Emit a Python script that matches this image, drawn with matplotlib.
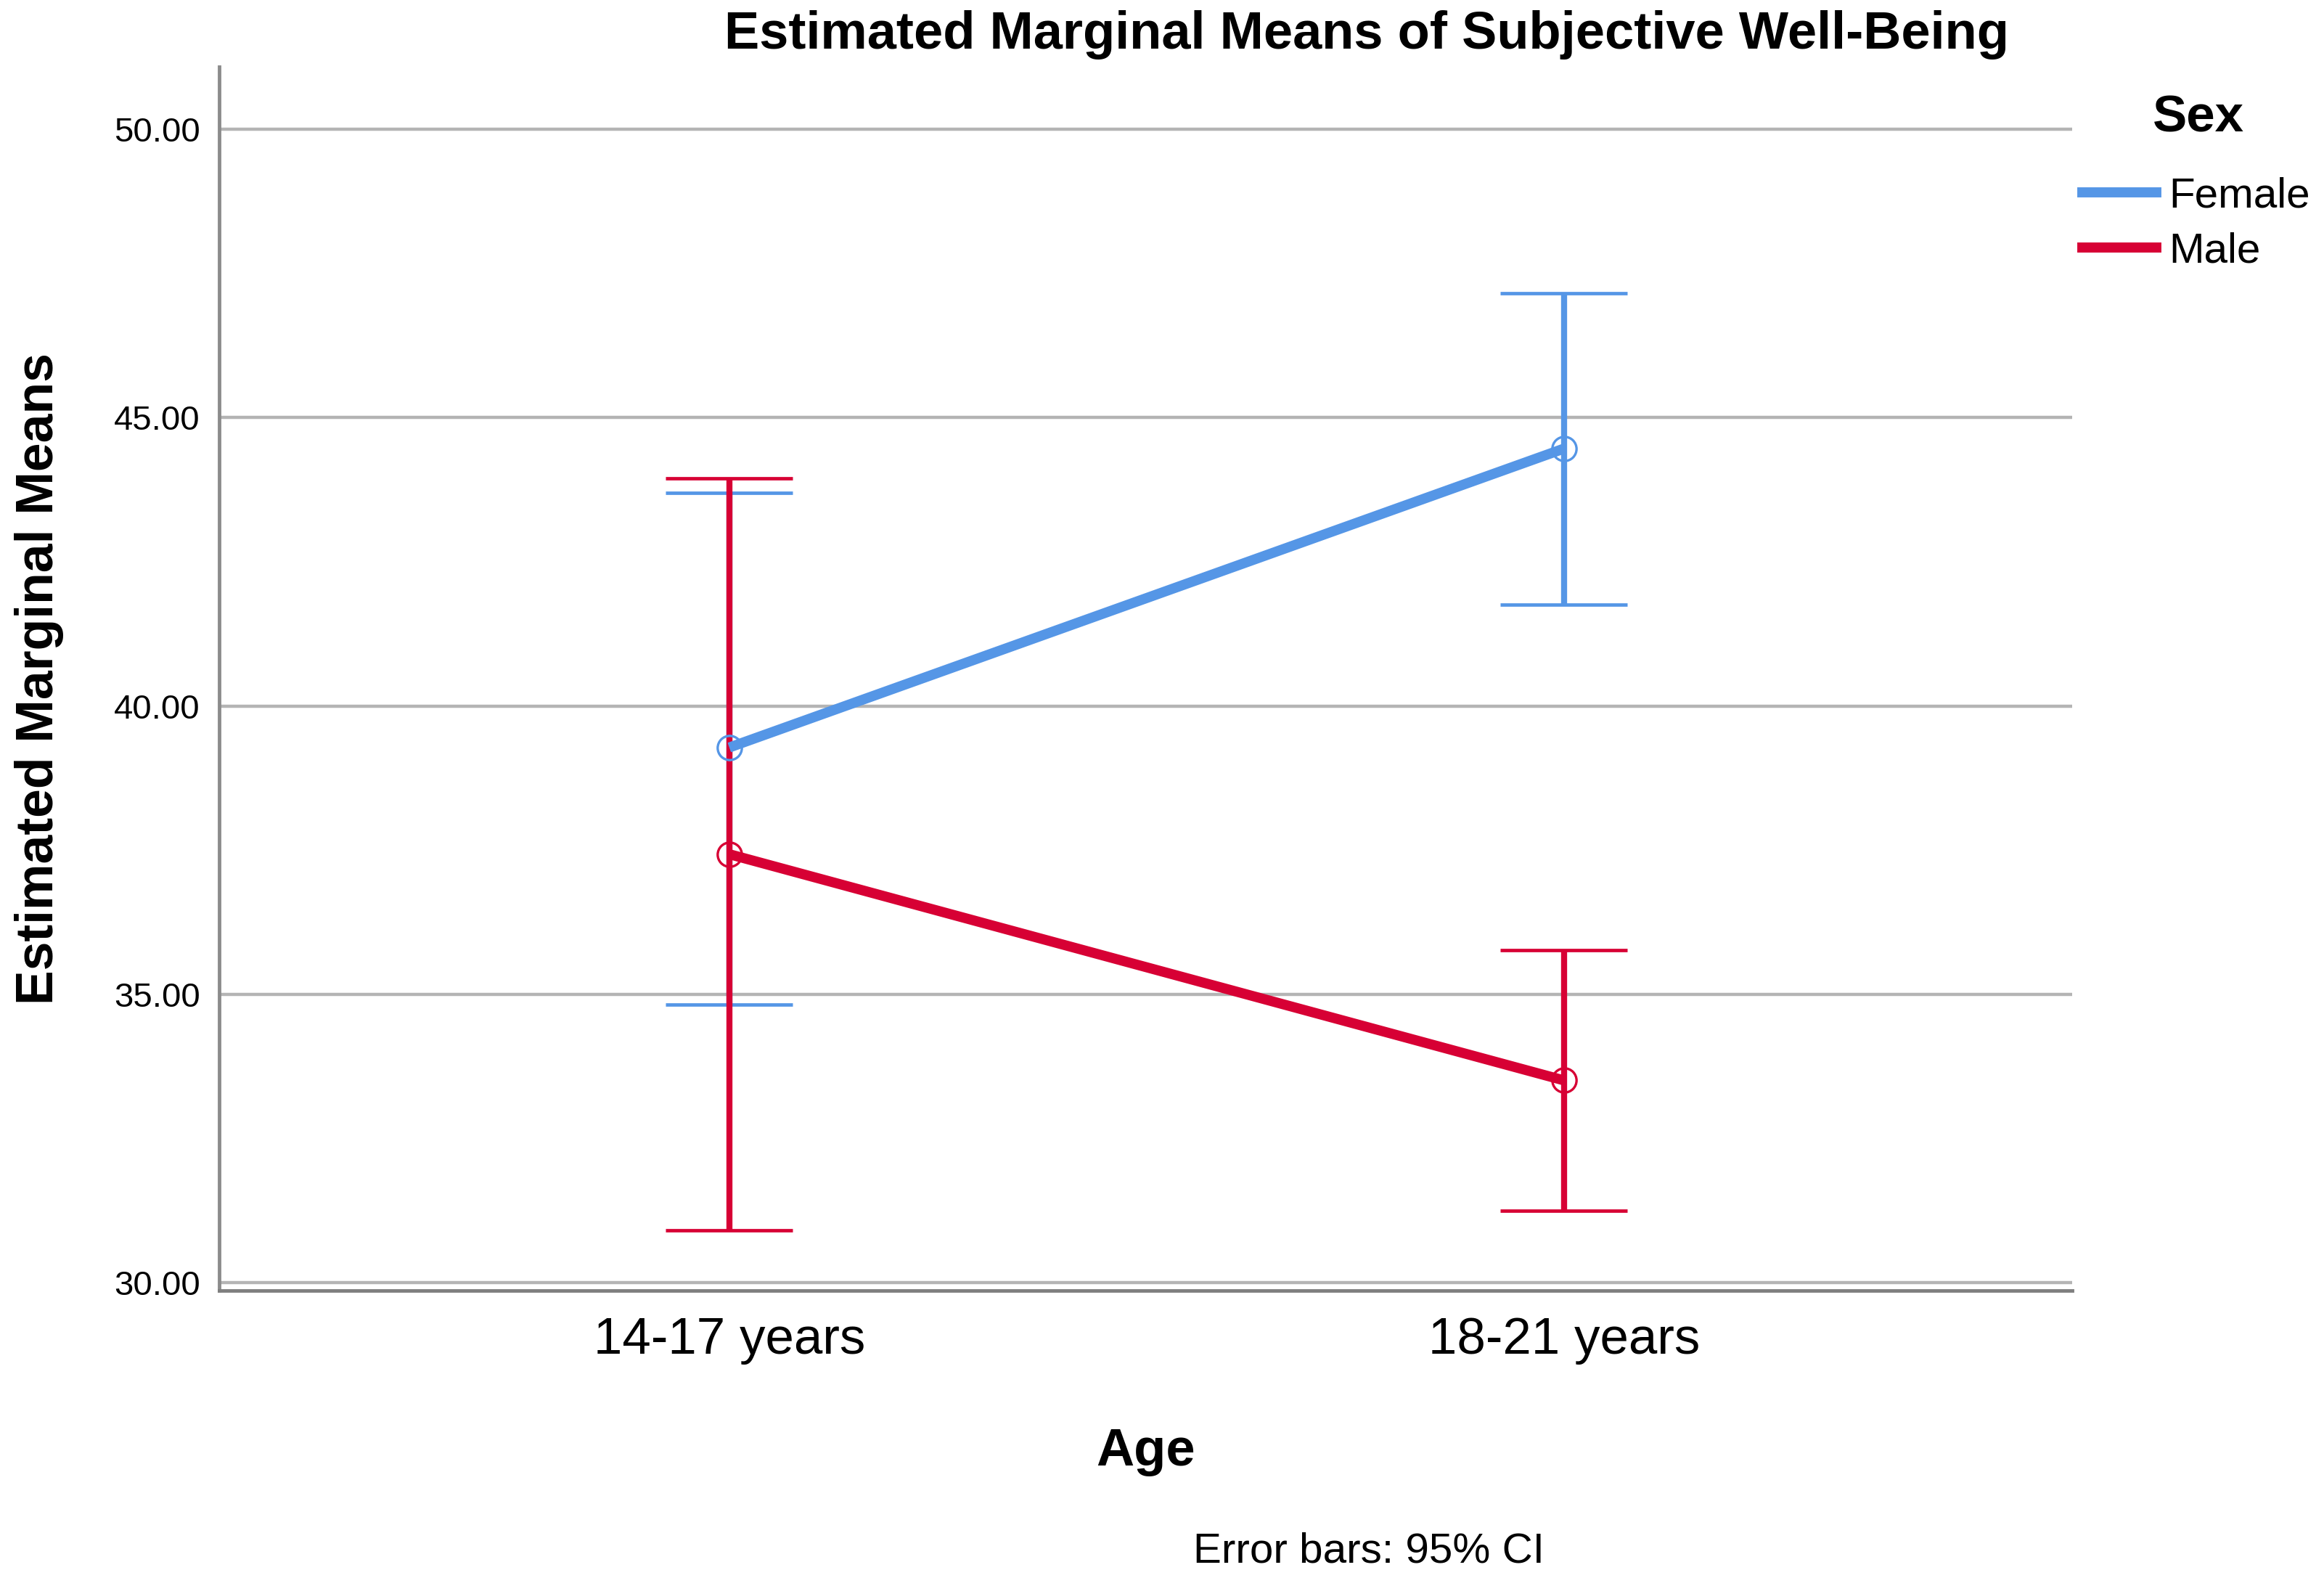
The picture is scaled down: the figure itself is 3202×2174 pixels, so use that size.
import matplotlib
matplotlib.use("Agg")
import matplotlib.pyplot as plt
from matplotlib.lines import Line2D

# ---- data ----
age_groups = ["14-17 years", "18-21 years"]
sexes = ["Female", "Male"]
female_mean = [39.28, 44.46]
female_lo = [34.82, 41.76]
female_hi = [43.69, 47.16]
male_mean = [37.43, 33.51]
male_lo = [30.91, 31.25]
male_hi = [43.95, 35.77]
y_ticks = [30, 35, 40, 45, 50]

colors = {"Female": "#5596E6", "Male": "#D70034"}

plt.rcParams['font.family'] = ['Liberation Sans', 'DejaVu Sans']

fig = plt.figure(figsize=(32.02, 21.74), dpi=100)
ax = fig.add_axes([0.0944, 0.1823, 0.8916 - 0.0944, 0.9577 - 0.1823])

x = list(range(len(age_groups)))
ax.set_xlim(-0.611, 1.609)
ax.set_ylim(29.87, 51.08)

for yt in y_ticks:
    ax.axhline(yt, color="#B4B4B4", lw=3.2, zorder=1)

cap_half = 0.076
series = [("Female", female_mean, female_lo, female_hi),
          ("Male", male_mean, male_lo, male_hi)]
for name, m, lo, hi in series:
    c = colors[name]
    ax.vlines(x, lo, hi, color=c, lw=6, zorder=3)
    ax.hlines(lo, [xi - cap_half for xi in x], [xi + cap_half for xi in x], color=c, lw=3.4, zorder=3)
    ax.hlines(hi, [xi - cap_half for xi in x], [xi + cap_half for xi in x], color=c, lw=3.4, zorder=3)
    ax.plot(x, m, color=c, lw=10, zorder=4, solid_capstyle='butt')
    ax.plot(x, m, linestyle='none', marker='o', markersize=24, markerfacecolor='none',
            markeredgecolor=c, markeredgewidth=2.4, zorder=5)

for s in ["top", "right"]:
    ax.spines[s].set_visible(False)
ax.spines["left"].set_color("#8C8C8C")
ax.spines["left"].set_linewidth(3.5)
ax.spines["bottom"].set_color("#7F7F7F")
ax.spines["bottom"].set_linewidth(3.5)

ax.set_xticks(x)
ax.set_xticklabels(age_groups, fontsize=51)
ax.set_yticks(y_ticks)
ax.set_yticklabels([f"{v:.2f}" for v in y_ticks], fontsize=34)
ax.tick_params(axis='both', length=0)
ax.tick_params(axis='y', pad=19)
ax.tick_params(axis='x', pad=26)

ax.set_ylabel("Estimated Marginal Means", fontsize=51.5, fontweight='bold', labelpad=50)
ax.set_xlabel("Age", fontsize=52, fontweight='bold', labelpad=62)

fig.text(0.588, 0.978, "Estimated Marginal Means of Subjective Well-Being",
         fontsize=52, fontweight='bold', ha='center', va='center')
fig.text(0.589, 0.017, "Error bars: 95% CI", fontsize=42, ha='center', va='center')

fig.text(0.9458, 0.9248, "Sex", fontsize=51, fontweight='bold', ha='center', va='center')
handles = [Line2D([0], [0], color=colors[s], lw=10) for s in sexes]
leg = fig.legend(handles, sexes, loc='upper left', bbox_to_anchor=(0.896, 0.888),
                 frameon=False, fontsize=42,
                 handlelength=1.75, handletextpad=0.3, labelspacing=0.38,
                 borderaxespad=0, borderpad=0)

fig.savefig("out.png", dpi=100)
